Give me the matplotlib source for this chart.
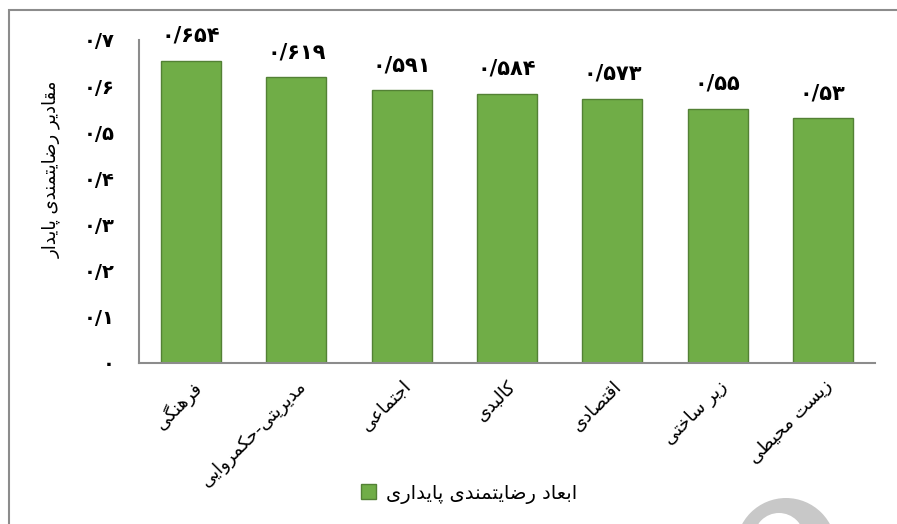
import matplotlib
matplotlib.use('Agg')
import matplotlib.pyplot as plt
from matplotlib.patches import Rectangle, Ellipse

plt.rcParams['font.family'] = ['DejaVu Sans']

# datos
categorias = ['فرهنگی', 'مدیریتی-حکمروایی', 'اجتماعی', 'کالبدی', 'اقتصادی', 'زیر ساختی', 'زیست محیطی']
valores = [0.654, 0.619, 0.591, 0.584, 0.573, 0.55, 0.53]
etiquetas = ['0.654', '0.619', '0.591', '0.584', '0.573', '0.55', '0.53']
yticks = [0, 0.1, 0.2, 0.3, 0.4, 0.5, 0.6, 0.7]
ytick_txt = ['0', '0.1', '0.2', '0.3', '0.4', '0.5', '0.6', '0.7']
ylabel = 'مقادیر رضایتمندی پایدار'
leyenda = 'ابعاد رضایتمندی پایداری'

# formas de presentacion: aislada, final, inicial, media
FORMAS = {
    'ا': ('\uFE8D', '\uFE8E', None, None),
    'ب': ('\uFE8F', '\uFE90', '\uFE91', '\uFE92'),
    'پ': ('\uFB56', '\uFB57', '\uFB58', '\uFB59'),
    'ت': ('\uFE95', '\uFE96', '\uFE97', '\uFE98'),
    'ج': ('\uFE9D', '\uFE9E', '\uFE9F', '\uFEA0'),
    'ح': ('\uFEA1', '\uFEA2', '\uFEA3', '\uFEA4'),
    'خ': ('\uFEA5', '\uFEA6', '\uFEA7', '\uFEA8'),
    'د': ('\uFEA9', '\uFEAA', None, None),
    'ر': ('\uFEAD', '\uFEAE', None, None),
    'ز': ('\uFEAF', '\uFEB0', None, None),
    'س': ('\uFEB1', '\uFEB2', '\uFEB3', '\uFEB4'),
    'ص': ('\uFEB9', '\uFEBA', '\uFEBB', '\uFEBC'),
    'ض': ('\uFEBD', '\uFEBE', '\uFEBF', '\uFEC0'),
    'ط': ('\uFEC1', '\uFEC2', '\uFEC3', '\uFEC4'),
    'ع': ('\uFEC9', '\uFECA', '\uFECB', '\uFECC'),
    'ف': ('\uFED1', '\uFED2', '\uFED3', '\uFED4'),
    'ق': ('\uFED5', '\uFED6', '\uFED7', '\uFED8'),
    'ک': ('\uFB8E', '\uFB8F', '\uFB90', '\uFB91'),
    'گ': ('\uFB92', '\uFB93', '\uFB94', '\uFB95'),
    'ل': ('\uFEDD', '\uFEDE', '\uFEDF', '\uFEE0'),
    'م': ('\uFEE1', '\uFEE2', '\uFEE3', '\uFEE4'),
    'ن': ('\uFEE5', '\uFEE6', '\uFEE7', '\uFEE8'),
    'ه': ('\uFEE9', '\uFEEA', '\uFEEB', '\uFEEC'),
    'و': ('\uFEED', '\uFEEE', None, None),
    'ی': ('\uFBFC', '\uFBFD', '\uFBFE', '\uFBFF'),
}


def fa(texto):
    # unir letras y poner en orden visual (derecha a izquierda)
    salida = []
    for i, c in enumerate(texto):
        if c not in FORMAS:
            salida.append(c)
            continue
        prev = texto[i - 1] if i > 0 else ''
        sig = texto[i + 1] if i + 1 < len(texto) else ''
        une_prev = prev in FORMAS and FORMAS[prev][2] is not None
        une_sig = FORMAS[c][2] is not None and sig in FORMAS
        ais, fin, ini, med = FORMAS[c]
        if une_prev and une_sig:
            salida.append(med)
        elif une_prev:
            salida.append(fin)
        elif une_sig:
            salida.append(ini)
        else:
            salida.append(ais)
    return ''.join(reversed(salida))


def num_fa(s):
    return s.translate(str.maketrans('0123456789.', '۰۱۲۳۴۵۶۷۸۹/'))


fig = plt.figure(figsize=(8.97, 5.24), dpi=100)
ax = fig.add_axes([0.1545, 0.3073, 0.8215, 0.6164])

x = range(len(categorias))
barras = ax.bar(x, valores, width=0.57, color='#70AD47', edgecolor='#538135', linewidth=1)

for b, t in zip(barras, etiquetas):
    ax.text(b.get_x() + b.get_width() / 2, b.get_height() + 0.033, num_fa(t),
            ha='center', va='bottom', fontsize=15, fontweight='bold')

ax.set_xlim(-0.5, len(categorias) - 0.5)
ax.set_ylim(0, 0.7)
ax.set_yticks(yticks)
ax.set_yticklabels([num_fa(t) for t in ytick_txt], fontsize=14, fontweight='bold')
ax.set_xticks(list(x))
ax.set_xticklabels([fa(c) for c in categorias], rotation=45, ha='right',
                   rotation_mode='anchor', fontsize=13)
ax.tick_params(axis='y', length=0, pad=17)
ax.tick_params(axis='x', length=0, pad=10)

for s in ['top', 'right']:
    ax.spines[s].set_visible(False)
for s in ['left', 'bottom']:
    ax.spines[s].set_color('#8c8c8c')
    ax.spines[s].set_linewidth(1.5)

ax.set_ylabel(fa(ylabel), fontsize=13)
ax.yaxis.set_label_coords(-0.105, 0.6)

leg = fig.legend([barras[0]], [fa(leyenda)], loc='center', bbox_to_anchor=(0.523, 0.058),
                 frameon=False, fontsize=14, handlelength=0.8, handleheight=0.8,
                 handletextpad=0.5)

# marco exterior
fig.patches.append(Rectangle((9 / 897, -0.1), 1.2, 1.1 - 10 / 524, transform=fig.transFigure,
                             fill=False, edgecolor='#8c8c8c', linewidth=1.5))

# marca de agua (arco gris abajo a la derecha)
fig.patches.append(Ellipse((786 / 897, 1 - 548 / 524), 100 / 897, 100 / 524,
                           transform=fig.transFigure, color='#c8c8c8', lw=0))
fig.patches.append(Ellipse((779 / 897, 1 - 538 / 524), 50 / 897, 50 / 524,
                           transform=fig.transFigure, color='white', lw=0))

plt.savefig('out.png', dpi=100)
